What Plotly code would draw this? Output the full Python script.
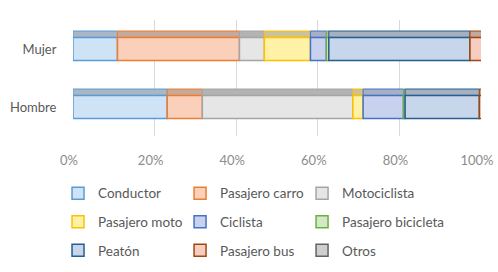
import itertools
import plotly.graph_objects as go

categories = ["Hombre", "Mujer"]
series_names = ["Conductor", "Pasajero carro", "Motociclista",
                "Pasajero moto", "Ciclista", "Pasajero bicicleta",
                "Peatón", "Pasajero bus", "Otros"]
hombre = [23.1, 8.6, 36.9, 2.5, 9.9, 0.4, 18.2, 0.6, 0.2]
mujer = [10.9, 29.9, 6.1, 11.3, 3.9, 0.6, 34.6, 2.9, 0.2]
tick_vals = [0, 20, 40, 60, 80, 100]
tick_text = ["0%", "20%", "40%", "60%", "80%", "100%"]

fills = ["#cfe3f6", "#fbd0bb", "#e6e6e6", "#fff2a6", "#c8d2ee",
         "#d3e8c5", "#c8d6ec", "#f6cdbf", "#cfcfcf"]
tops = ["#a9b7c5", "#c4a99c", "#b3b3b3", "#c9c29c", "#a7afc5",
        "#afbea6", "#a6b0c0", "#c2a89f", "#9a9a9a"]
borders = ["#5b9bd5", "#ed7d31", "#a5a5a5", "#ffc000", "#4472c4",
           "#70ad47", "#255e91", "#9e480e", "#636363"]
# legend column of each series (3 columns x 3 rows)
legend_cols = ["legend", "legend2", "legend3"] * 3

base_h = [0] + list(itertools.accumulate(hombre))[:-1]
base_m = [0] + list(itertools.accumulate(mujer))[:-1]

fig = go.Figure()
for i, name in enumerate(series_names):
    # top face (pseudo 3D)
    fig.add_trace(go.Bar(
        y=categories, x=[hombre[i], mujer[i]], base=[base_h[i], base_m[i]],
        orientation="h", width=0.11, offset=0.2,
        marker=dict(color=tops[i], line=dict(color=borders[i], width=1)),
        showlegend=False, hoverinfo="skip", legend=legend_cols[i],
    ))
    # front face
    fig.add_trace(go.Bar(
        y=categories, x=[hombre[i], mujer[i]], base=[base_h[i], base_m[i]],
        name=name, orientation="h", width=0.4, offset=-0.2,
        marker=dict(color=fills[i], line=dict(color=borders[i], width=1.5)),
        legend=legend_cols[i], legendgroup=name,
    ))

font = dict(family="Lato, Open Sans, sans-serif", size=13.5, color="#595959")
common_leg = dict(orientation="v", xanchor="left", yanchor="middle", y=-0.741,
                  font=font, bgcolor="rgba(0,0,0,0)", traceorder="grouped",
                  tracegroupgap=8)

fig.update_layout(
    width=498, height=272,
    margin=dict(l=73, r=17, t=20, b=136, autoexpand=False),
    paper_bgcolor="white", plot_bgcolor="white",
    barmode="overlay",
    font=font,
    showlegend=True,
    legend=dict(common_leg, x=-0.0367),
    legend2=dict(common_leg, x=0.2624),
    legend3=dict(common_leg, x=0.5614),
    xaxis=dict(range=[0, 100], tickvals=tick_vals, ticktext=tick_text,
               showgrid=True, gridcolor="#d9d9d9", gridwidth=1,
               zeroline=False, showline=False, ticks="outside", ticklen=0,
               ticklabelstandoff=12, ticklabelshift=-4,
               tickfont=dict(family="Lato, Open Sans, sans-serif", size=13, color="#8c8c8c")),
    yaxis=dict(range=[-0.5, 1.5], showgrid=False, zeroline=False, showline=False,
               ticks="outside", ticklen=0, ticklabelstandoff=13,
               tickfont=dict(family="Lato, Open Sans, sans-serif", size=13, color="#595959")),
)

fig.write_html("out.html", config={"displayModeBar": False},
               post_script="document.body.style.margin='0';")
